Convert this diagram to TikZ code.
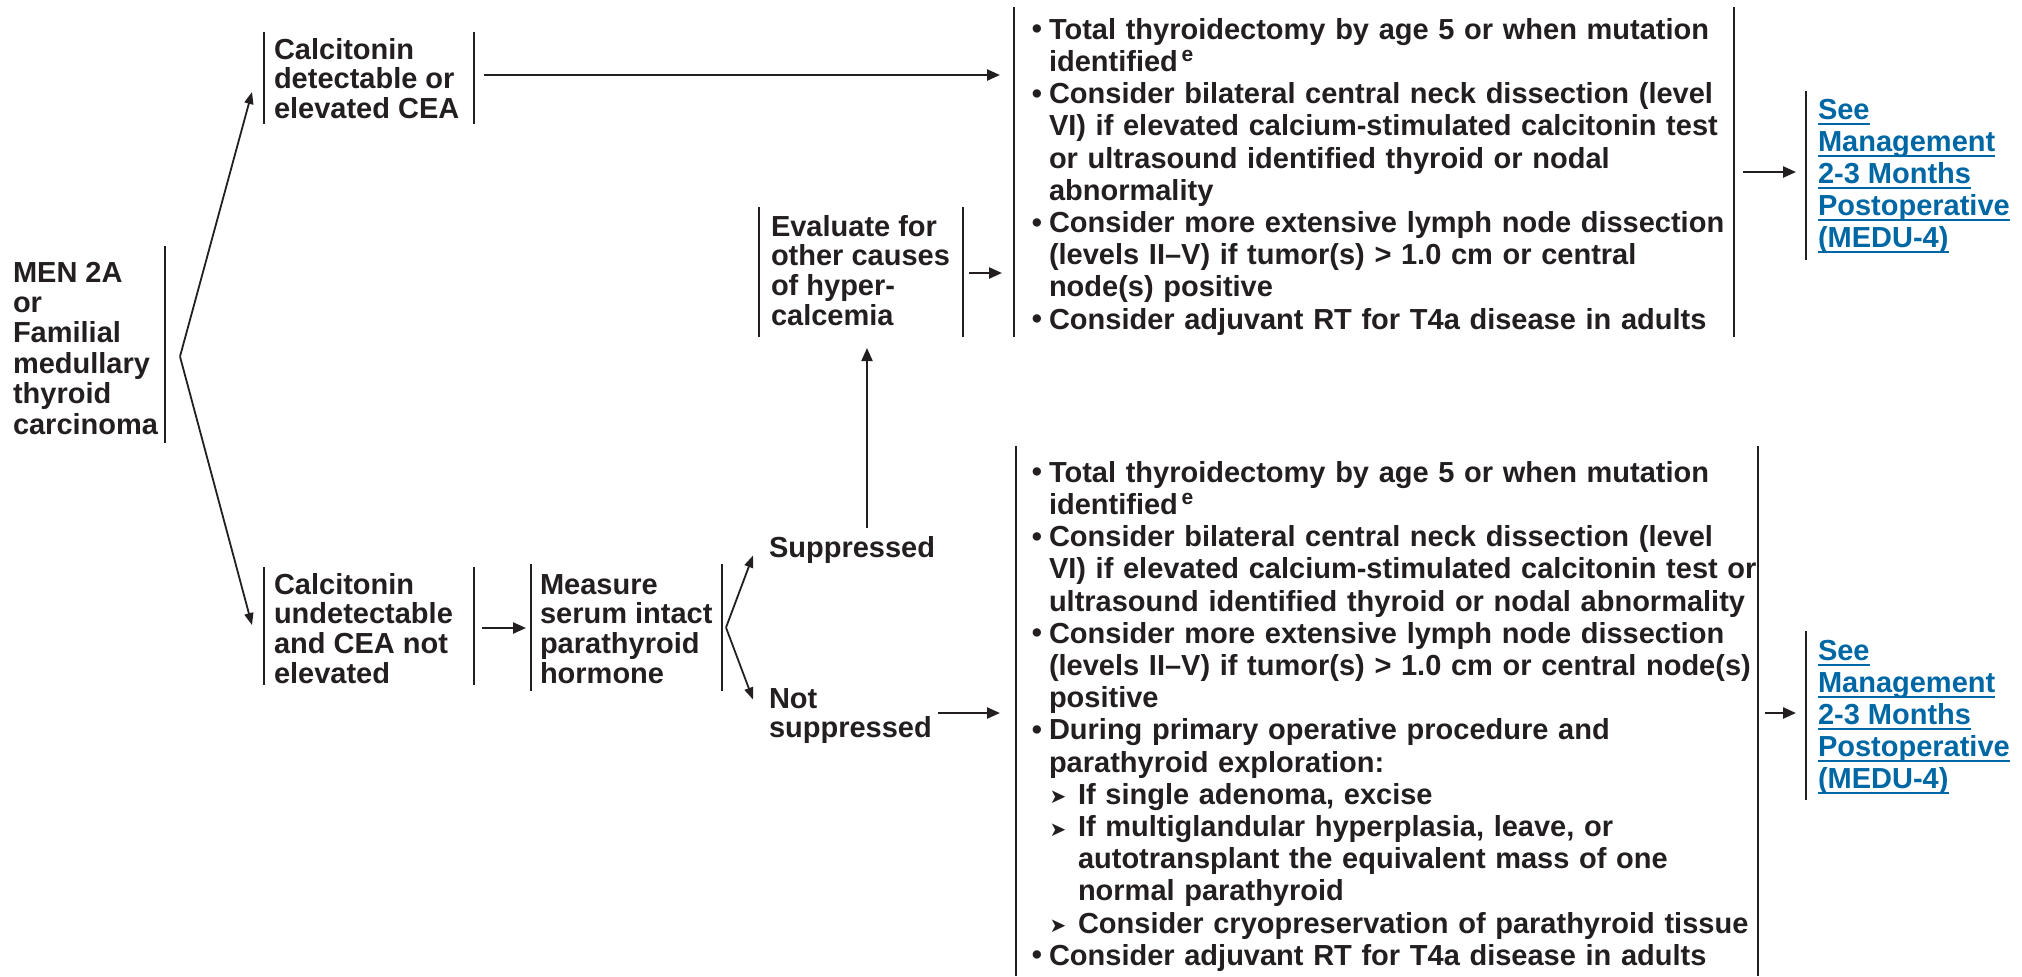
\documentclass[tikz,border=0pt]{standalone}
\usepackage{fontspec}
\setmainfont{Liberation Sans}
\newfontfamily\symfam{DejaVu Sans}
\usetikzlibrary{arrows.meta,calc,fit}

\definecolor{ink}{RGB}{35,31,32}
\definecolor{linkblue}{RGB}{0,103,165}

% strut fixing the height of a node's first line
\newcommand\fl{\rule{0pt}{11pt}}
% underlined link text
\newsavebox\lnkbox
\newcommand\lnk[1]{\sbox\lnkbox{#1}\rlap{\rule[-2.8pt]{\wd\lnkbox}{1pt}}\usebox\lnkbox}
% list items with hanging indent
\newcommand\dotmark{\makebox[8pt][l]{\fl\kern-0.6pt\raisebox{0.2pt}{\fontsize{14.5}{14.5}\selectfont •}}}
\newcommand\bitem{\par\hangindent=8pt\hangafter=1\noindent\dotmark}
\newcommand\sitem{\par\hangindent=22.5pt\hangafter=1\noindent\hspace*{8.3pt}\makebox[14.2pt][l]{\raisebox{0.2pt}{\symfam\fontsize{10}{10}\selectfont ➤}}}
\newcommand\nl{\hfil\break}
\newcommand\supe{\kern1.8pt\raisebox{5pt}{\fontsize{10.5}{10.5}\selectfont e}}

\begin{document}
\begin{tikzpicture}[x=0.5pt,y=-0.5pt,
  every node/.style={inner sep=0pt, outer sep=0pt, text=ink},
  zone/.style={inner sep=0pt, outer sep=0pt, draw=none},
  bar/.style={draw=ink, line width=1.2pt},
  arr/.style={draw=ink, line width=1.2pt, -{Triangle[length=6.5pt,width=5.5pt]}},
  forkarr/.style={draw=ink, line width=0.9pt, -{Triangle[length=6pt,width=4.5pt]}},
  boxtext/.style={anchor=north west, align=left, font=\bfseries\fontsize{14.5}{14.9}\selectfont},
  listtext/.style={anchor=north west, text width=420pt, align=left, font=\bfseries\fontsize{14.5}{16.1}\selectfont},
  linktext/.style={anchor=north west, align=left, text=linkblue, font=\bfseries\fontsize{14.5}{16}\selectfont},
]
\useasboundingbox (0,0) rectangle (2022,976);

% ---- areas framed by side bars
\node[zone, fit={(164,246)(164,443)}] (men) {};
\node[zone, fit={(264,32)(474,124)}] (det) {};
\node[zone, fit={(759,207)(963,337)}] (eva) {};
\node[zone, fit={(264,567)(474,685)}] (und) {};
\node[zone, fit={(531,564)(722,691)}] (meas) {};
\node[zone, fit={(1014,7)(1734,337)}] (lst1) {};
\node[zone, fit={(1016,446)(1758,976)}] (lst2) {};
\node[zone, fit={(1807,91)(1807,260)}] (see1) {};
\node[zone, fit={(1807,631)(1807,800)}] (see2) {};

\draw[bar] (men.north east) -- (men.south east);
\foreach \b in {det,eva,und,meas,lst1,lst2}
  \draw[bar] (\b.north west) -- (\b.south west) (\b.north east) -- (\b.south east);
\draw[bar] (see1.north west) -- (see1.south west);
\draw[bar] (see2.north west) -- (see2.south west);

% ---- texts
\node[boxtext, font=\bfseries\fontsize{14.5}{15.2}\selectfont] (mentxt) at (13,260) {\fl MEN 2A\\or\\Familial\\medullary\\thyroid\\carcinoma};
\node[boxtext] (dettxt) at (274,37) {\fl Calcitonin\\detectable or\\elevated CEA};
\node[boxtext] (evatxt) at (771,214) {\fl Evaluate for\\other causes\\of hyper-\\calcemia};
\node[boxtext] (undtxt) at (274,572) {\fl Calcitonin\\undetectable\\and CEA not\\elevated};
\node[boxtext] (meastxt) at (540,572) {\fl Measure\\serum intact\\parathyroid\\hormone};
\node[boxtext] (sup) at (769,535) {\fl Suppressed};
\node[boxtext, font=\bfseries\fontsize{14.5}{14.7}\selectfont] (ns) at (769,686) {\fl Not\\suppressed};

\node[listtext] (lst1txt) at (1033,7) {%
\bitem Total thyroidectomy by age 5 or when mutation\nl identified\supe
\bitem Consider bilateral central neck dissection (level\nl VI) if elevated calcium-stimulated calcitonin test\nl or ultrasound identified thyroid or nodal\nl abnormality
\bitem Consider more extensive lymph node dissection\nl (levels II–V) if tumor(s) > 1.0 cm or central\nl node(s) positive
\bitem Consider adjuvant RT for T4a disease in adults\par};

\node[listtext] (lst2txt) at (1033,450) {%
\bitem Total thyroidectomy by age 5 or when mutation\nl identified\supe
\bitem Consider bilateral central neck dissection (level\nl VI) if elevated calcium-stimulated calcitonin test or\nl ultrasound identified thyroid or nodal abnormality
\bitem Consider more extensive lymph node dissection\nl (levels II–V) if tumor(s) > 1.0 cm or central node(s)\nl positive
\bitem During primary operative procedure and\nl parathyroid exploration:
\sitem If single adenoma, excise
\sitem If multiglandular hyperplasia, leave, or\nl autotransplant the equivalent mass of one\nl normal parathyroid
\sitem Consider cryopreservation of parathyroid tissue
\bitem Consider adjuvant RT for T4a disease in adults\par};

\node[linktext] (see1txt) at (1818,97) {\fl\lnk{See}\\\lnk{Management}\\\lnk{2-3 Months}\\\lnk{Postoperative}\\\lnk{(MEDU-4)}};
\node[linktext] (see2txt) at (1818,638) {\fl\lnk{See}\\\lnk{Management}\\\lnk{2-3 Months}\\\lnk{Postoperative}\\\lnk{(MEDU-4)}};

% ---- connectors
\coordinate (f1) at ($(men.east)+(15,12)$);
\draw[forkarr] (f1) -- ($(det.west)+(-12,14)$);
\draw[forkarr] (f1) -- ($(und.west)+(-12,-1)$);

\coordinate (f2) at ($(meas.east)+(4,0)$);
\draw[forkarr] (f2) -- ($(meas.east)+(31,-72)$);
\draw[forkarr] (f2) -- ($(meas.east)+(31,72)$);

\draw[arr] ($(det.east)+(10,-3)$) -- ($(lst1.west |- det.east)+(-14,-3)$);
\draw[arr] ($(eva.east)+(6,1)$) -- ($(lst1.west |- eva.east)+(-12,1)$);
\draw[arr, line width=1pt] ($(eva.south |- sup.north)+(6,-7)$) -- ($(eva.south)+(6,11)$);
\draw[arr] ($(und.east)+(8,2)$) -- ($(meas.west |- und.east)+(-5,2)$);
\draw[arr] ($(ns.north east)+(6,27)$) -- ($(lst2.west |- ns.north east)+(-16,27)$);
\draw[arr] ($(lst1.east)+(9,0)$) -- ($(see1.west |- lst1.east)+(-10,0)$);
\draw[arr] ($(lst2.east)+(7,2)$) -- ($(see2.west |- lst2.east)+(-10,2)$);
\end{tikzpicture}
\end{document}
